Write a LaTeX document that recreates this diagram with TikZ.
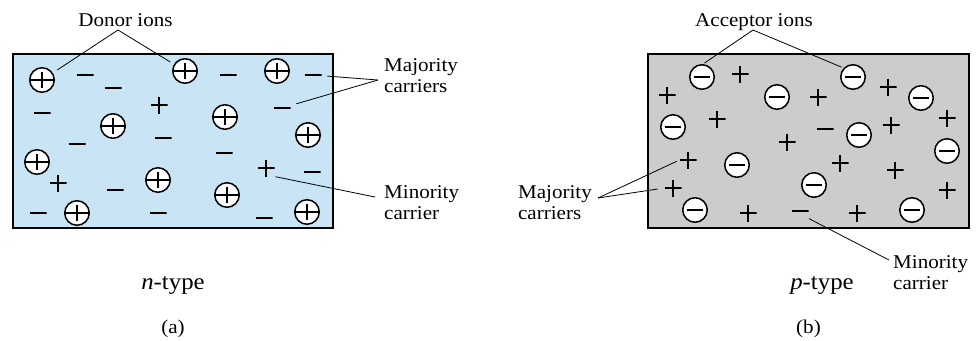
\documentclass[tikz,border=0pt]{standalone}
\usepackage{fontspec}
\setmainfont{Liberation Serif}[FakeStretch=1.08]
\begin{document}
\begin{tikzpicture}[x=1bp,y=-1bp,
  sym/.style={inner sep=0pt, outer sep=0pt},
  mn/.style={sym, minimum width=17bp, minimum height=6bp,
    path picture={\draw[line width=2bp] (path picture bounding box.west) -- (path picture bounding box.east);}},
  pl/.style={sym, minimum size=17bp,
    path picture={\draw[line width=2bp] (path picture bounding box.west) -- (path picture bounding box.east)
      (path picture bounding box.north) -- (path picture bounding box.south);}},
  ion/.style={sym, circle, draw, fill=white, line width=1.5bp, minimum size=24.5bp},
  ionp/.style={ion, path picture={\draw[line width=2bp, shorten <=3.8bp, shorten >=3.8bp]
      (path picture bounding box.west) -- (path picture bounding box.east)
      (path picture bounding box.north) -- (path picture bounding box.south);}},
  ionm/.style={ion, path picture={\draw[line width=2bp, shorten <=3.8bp, shorten >=3.8bp]
      (path picture bounding box.west) -- (path picture bounding box.east);}},
  lbl/.style={inner sep=0pt, font=\fontsize{19.5bp}{21bp}\selectfont},
  big/.style={inner sep=0pt, font=\fontsize{23bp}{27bp}\selectfont},
  conn/.style={line width=0.8bp},
  box/.style={draw, line width=1.5bp}
]
\definecolor{nblue}{RGB}{201,229,245}
\definecolor{pgray}{RGB}{204,204,204}
\useasboundingbox (0,0) rectangle (979,340);

% ---------- (a) n-type ----------
\node[box, fill=nblue, sym, minimum width=320bp, minimum height=174bp, anchor=north west] (boxA) at (13,54) {};

\foreach \n/\x/\y in {1/42/80, 2/185/71, 3/277/71, 4/113/126, 5/225/117, 6/308/135,
                      7/37/162, 8/158/180, 9/227/195, 10/77/213, 11/307/212}
  \node[ionp] (ap\n) at (\x,\y) {};
\foreach \n/\x/\y in {1/85/75, 2/113/88, 3/228/75, 4/313/75, 5/42/113, 6/282/108, 7/77/144,
                      8/163/138, 9/224/153, 10/312/172, 11/115/190, 12/158/213, 13/38/213, 14/264/218}
  \node[mn] (am\n) at (\x,\y) {};
\foreach \n/\x/\y in {1/159/105, 2/58/183, 3/266/168}
  \node[pl] (apl\n) at (\x,\y) {};

\node[lbl, anchor=base] (donor) at (125.5,26) {Donor ions};
\node[lbl, align=left, anchor=north west] (majA) at (384,58.5) {Majority\\carriers};
\node[lbl, align=left, anchor=north west] (minA) at (384,185) {Minority\\carrier};
\node[big, anchor=base] (ntype) at (173,289) {\textit{n}-type};
\node[lbl, anchor=base] (capa) at (173,333) {(a)};

\coordinate (dj) at (118,30);
\coordinate (mjA) at (378,80);
\coordinate (mnAc) at (375,197);
\draw[conn, shorten >=6bp] (dj) -- (ap1);
\draw[conn, shorten >=5bp] (dj) -- (ap2);
\draw[conn, shorten >=6bp] (mjA) -- (am4);
\draw[conn, shorten >=6bp] (mjA) -- (am6);
\draw[conn, shorten >=1bp] (mnAc) -- (apl3.south east);

% ---------- (b) p-type ----------
\node[box, fill=pgray, sym, minimum width=321bp, minimum height=174bp, anchor=north west] (boxB) at (648,54) {};

\foreach \n/\x/\y in {1/702/77, 2/853/77, 3/777/97, 4/921/98, 5/673/127, 6/859/135,
                      7/947/151, 8/737/165, 9/814/185, 10/695/210, 11/912/210}
  \node[ionm] (bm\n) at (\x,\y) {};
\foreach \n/\x/\y in {1/740/74, 2/667/95, 3/818/97, 4/888/87, 5/717/119, 6/947/118, 7/891/125,
                      8/787/142, 9/688/160, 10/840/163, 11/895/170, 12/673/188, 13/947/190,
                      14/748/213, 15/857/213}
  \node[pl] (bp\n) at (\x,\y) {};
\foreach \n/\x/\y in {1/825/129, 2/800/211}
  \node[mn] (bmn\n) at (\x,\y) {};

\node[lbl, anchor=base] (acceptor) at (754,26) {Acceptor ions};
\node[lbl, align=left, anchor=north east] (majB) at (592,185.5) {Majority\\carriers};
\node[lbl, align=left, anchor=north west] (minB) at (893,255) {Minority\\carrier};
\node[big, anchor=base] (ptype) at (822,289) {\textit{p}-type};
\node[lbl, anchor=base] (capb) at (808.5,333) {(b)};

\coordinate (aj) at (753,30);
\coordinate (mjB) at (598,198);
\coordinate (mnBc) at (889,260);
\draw[conn, shorten >=3bp] (aj) -- (bm1.north);
\draw[conn, shorten >=3bp] (aj) -- (bm2.north west);
\draw[conn, shorten >=3bp] (mjB) -- (bp9.west);
\draw[conn, shorten >=7bp] (mjB) -- (bp12.west);
\draw[conn, shorten >=10bp] (mnBc) -- (bmn2.south);
\end{tikzpicture}
\end{document}
